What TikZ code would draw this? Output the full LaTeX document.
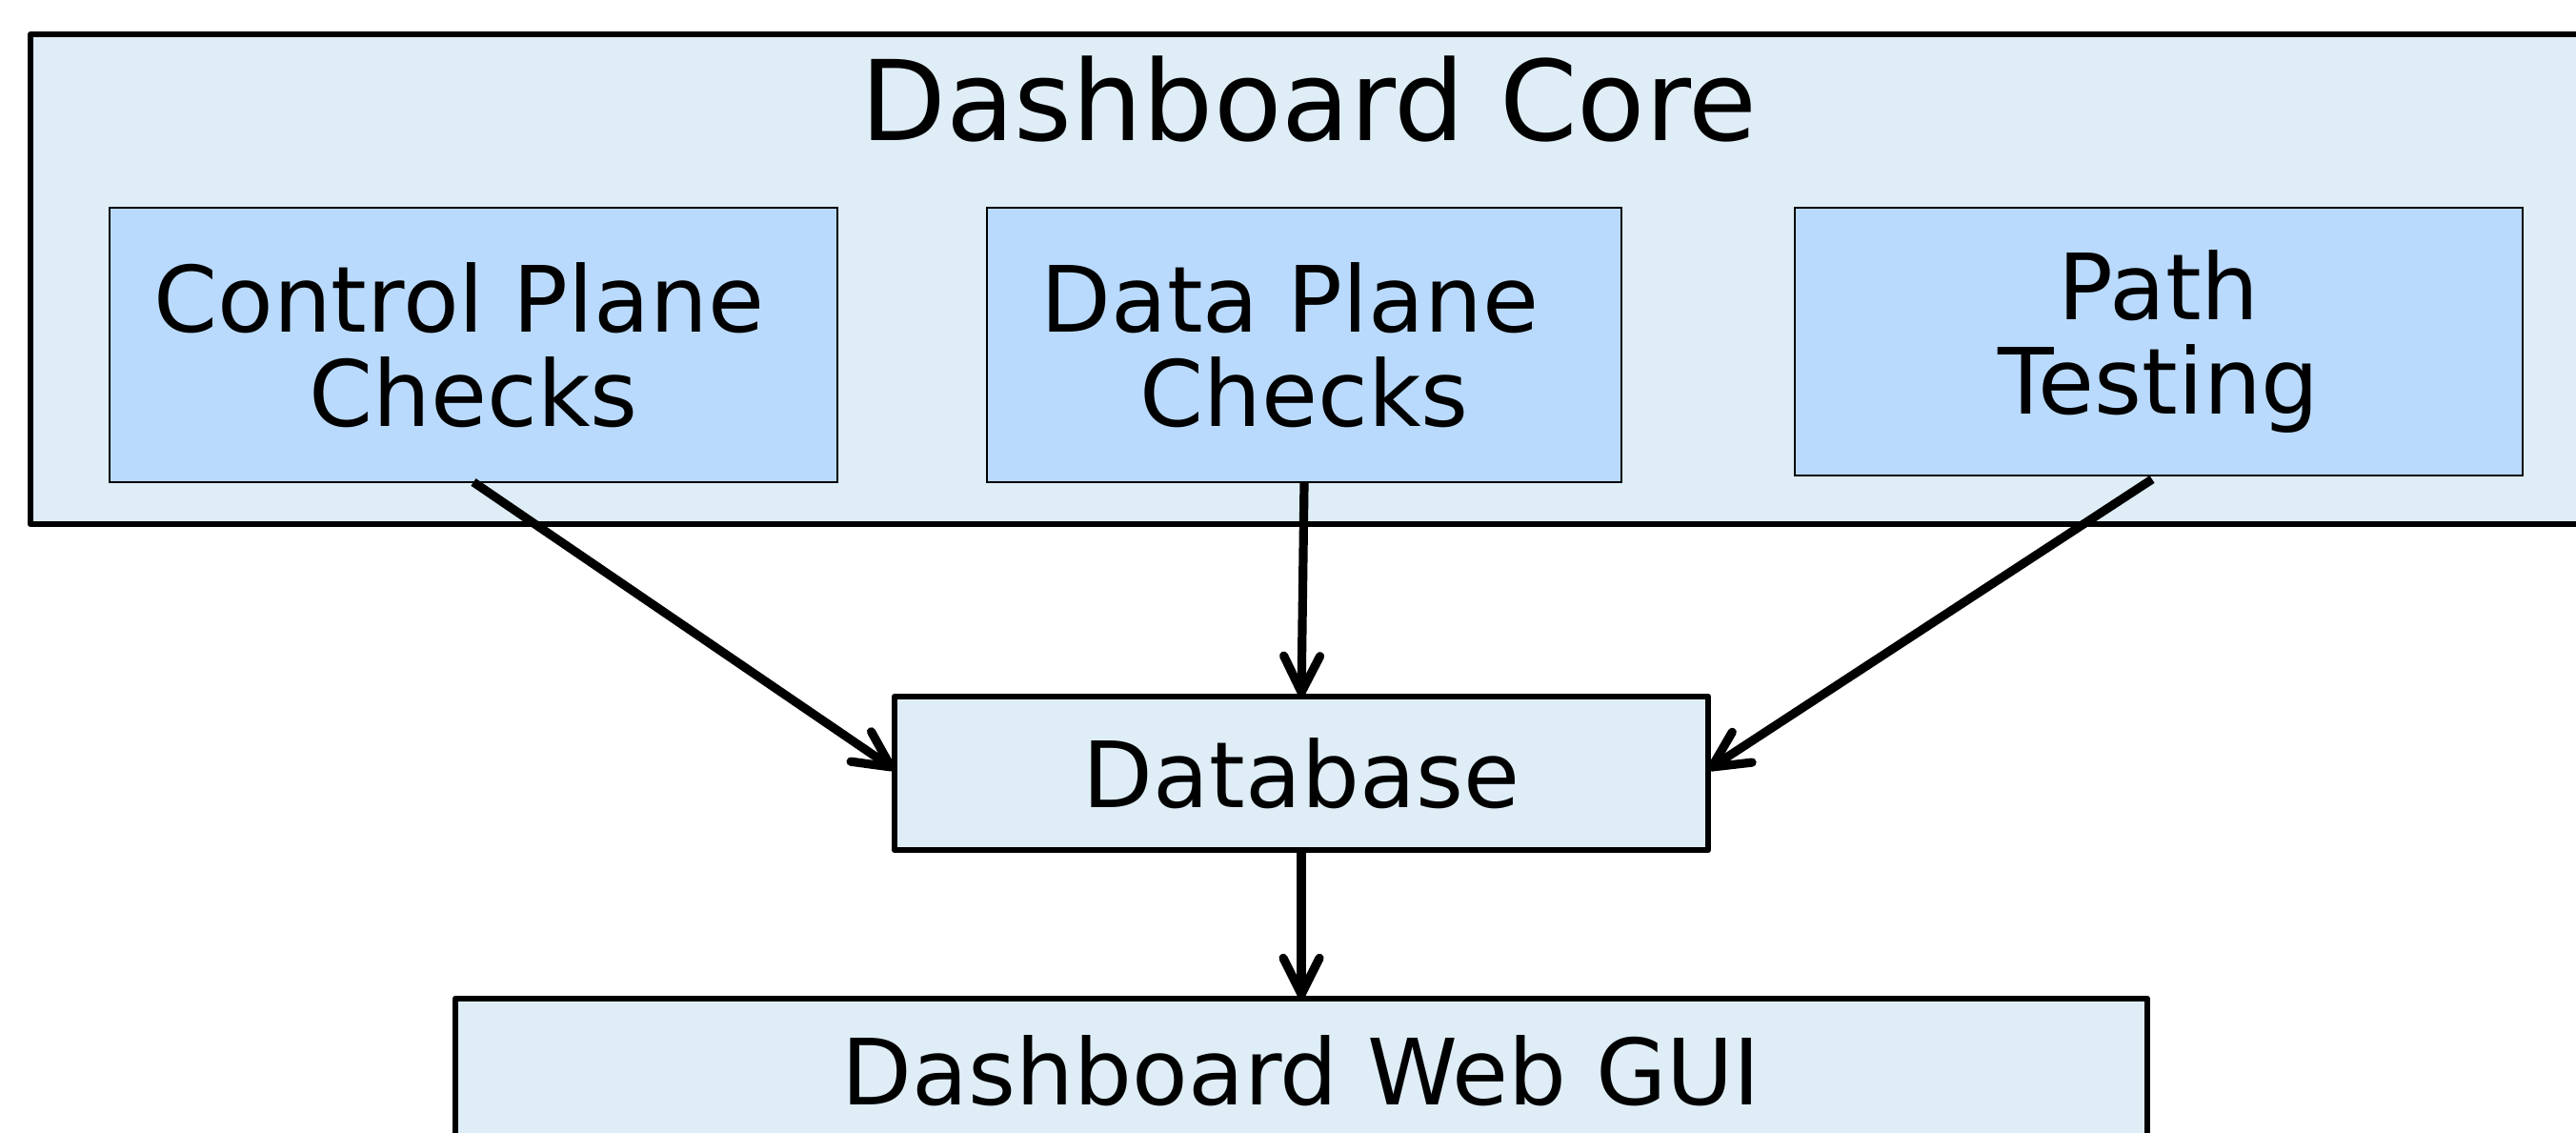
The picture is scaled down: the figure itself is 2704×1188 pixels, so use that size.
\documentclass[tikz,border=0pt]{standalone}
\usepackage{fontspec}
\setmainfont{DejaVu Sans}
\usetikzlibrary{arrows.meta}
\definecolor{corefill}{RGB}{222,237,246}
\definecolor{innerfill}{RGB}{185,218,252}
\newcommand{\titlefnt}{\fontsize{29.2pt}{34pt}\selectfont}
\newcommand{\bodyfnt}{\fontsize{24pt}{24.75pt}\selectfont}
\begin{document}
\begin{tikzpicture}[x=0.25pt,y=-0.25pt,
  bluebox/.style={draw=black, fill=corefill, line width=1.6pt, line join=round,
    inner sep=0pt, outer sep=0pt, font=\bodyfnt, align=center},
  innerbox/.style={draw=black, fill=innerfill, line width=0.45pt,
    inner sep=0pt, outer sep=0pt, font=\bodyfnt, align=center},
  conn/.style={draw=black, line width=2.3pt, -{Straight Barb[length=9.5pt,width=9.5pt,round]}}
]
\useasboundingbox (0,0) rectangle (2704,1188);
\clip (0,0) rectangle (2704,1188);
% container
\node[bluebox, minimum width=671pt, minimum height=128.5pt] (core) at (1374,293) {};
\node[anchor=base, font=\titlefnt, inner sep=0pt] (coretitle) at (1374,147) {Dashboard Core};
% inner checks
\node[innerbox, minimum width=191pt, minimum height=72pt] (cp) at (497,362)
  {Control Plane\hspace*{0.318em}\\Checks};
\node[innerbox, minimum width=166.5pt, minimum height=72pt] (dp) at (1369,362)
  {Data Plane\hspace*{0.318em}\\Checks};
\node[innerbox, minimum width=191pt, minimum height=70.15pt] (pt) at (2266,358.3)
  {Path\\Testing};
% database and gui
\node[bluebox, minimum width=213.5pt, minimum height=40.25pt] (db) at (1366,811.5) {Database};
\node[bluebox, minimum width=444pt, minimum height=38pt] (gui) at (1366,1124) {Dashboard Web GUI};
% connectors
\coordinate (ptout) at (2259,503);
\draw[conn] (cp.south) -- ([yshift=1pt]db.west);
\draw[conn] (dp.south) -- (db.north);
\draw[conn] (ptout) -- ([yshift=1pt]db.east);
\draw[conn] (db.south) -- (gui.north);
\end{tikzpicture}
\end{document}
